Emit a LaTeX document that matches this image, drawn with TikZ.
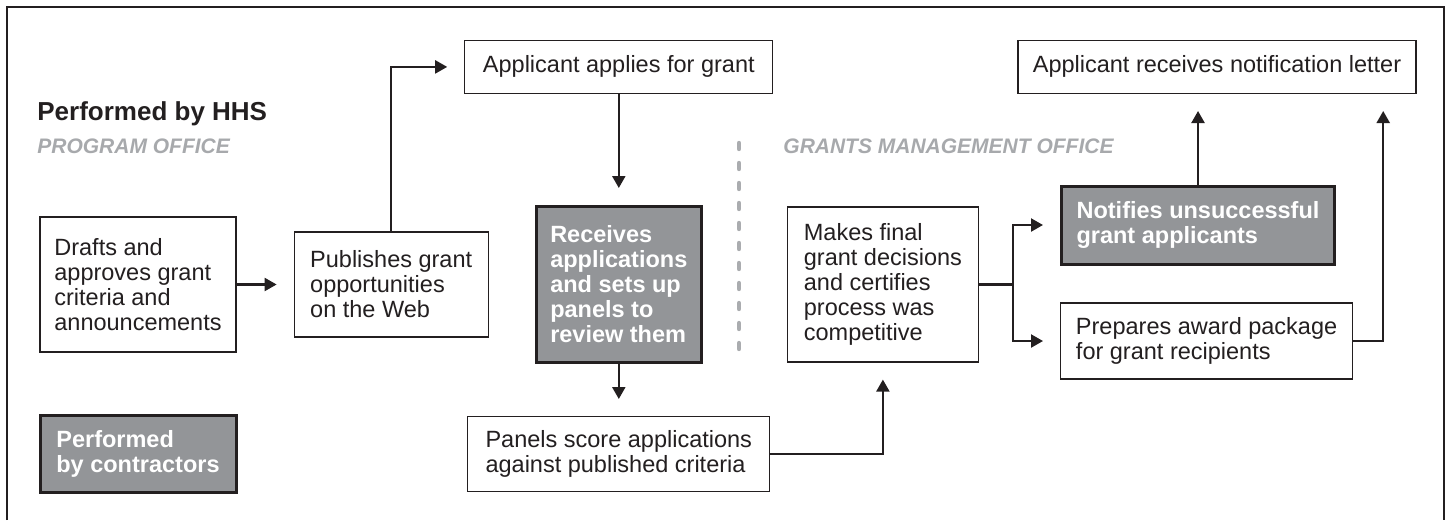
\documentclass[tikz,border=0pt]{standalone}
\usepackage{fontspec}
\setmainfont{Liberation Sans}
\usepackage{xcolor}
\definecolor{colorInk}{RGB}{35,31,32}
\definecolor{colorContract}{RGB}{147,149,152}
\definecolor{colorOffice}{RGB}{167,169,172}
\definecolor{colorDivider}{RGB}{170,172,175}
\usepackage{tikz}
\usetikzlibrary{arrows.meta, positioning}
\newcommand{\boxfont}{\fontsize{11.75pt}{12.5pt}\selectfont}
\tikzset{
  task/.style={draw=colorInk, line width=0.6pt, fill=white, text=colorInk, align=left, inner sep=0pt, font=\boxfont},
  contract/.style={task, line width=1.5pt, fill=colorContract, text=white, font=\boxfont\bfseries},
  office/.style={anchor=base west, inner sep=0pt, text=colorOffice, font=\fontsize{10.5pt}{12pt}\selectfont\bfseries\itshape},
  flow/.style={->, colorInk, line width=1.1pt, shorten >=8.5pt},
}

\begin{document}
\begin{tikzpicture}[x=0.5pt, y=-0.5pt, >={Triangle[length=6pt, width=6.5pt]}]
\useasboundingbox (0,0) rectangle (1449,520);
\draw[colorInk, line width=0.65pt] (7,520) |- (1444,7) -- (1444,520);

\node[anchor=base west, inner sep=0pt, text=colorInk, font=\fontsize{13pt}{15pt}\selectfont\bfseries] (hhs) at (37,120) {Performed by HHS};
\node[office] (program) at (37,153) {PROGRAM OFFICE};
\node[office] (grantsmgmt) at (783,153) {GRANTS MANAGEMENT OFFICE};
\draw[colorDivider, line width=2.2pt, line cap=round, dash pattern=on 3pt off 7pt] (739,143) -- (739,362);

\node[task, minimum width=98pt, minimum height=67.5pt] (drafts) at (138,284.5) {Drafts and\\approves grant\\criteria and\\announcements};
\node[task, minimum width=97pt, minimum height=52.5pt, right=28.5pt of drafts] (publish) {Publishes grant\\opportunities\\on the Web};
\node[contract, minimum width=82.5pt, minimum height=78pt, right=23pt of publish] (recv) {Receives\\applications\\and sets up\\panels to\\review them};
\node[task, minimum width=95.5pt, minimum height=77.5pt, right=42pt of recv] (decide) {Makes final\\grant decisions\\and certifies\\process was\\competitive};
\node[task, align=center, minimum width=154pt, minimum height=26.5pt, above=55.5pt of recv] (apply) {Applicant applies for grant};
\node[task, minimum width=151pt, minimum height=37.5pt, below=26pt of recv] (panels) {Panels score applications\\against published criteria};
\node[contract, minimum width=98pt, minimum height=38.5pt, below=30.5pt of drafts] (contractors) {Performed\\by contractors};
\node[contract, minimum width=136.5pt, minimum height=39pt, right=40.5pt of decide.east, yshift=29.75pt] (notify) {Notifies unsuccessful\\grant applicants};
\node[task, minimum width=146pt, minimum height=38pt, right=40.5pt of decide.east, yshift=-28.25pt] (award) {Prepares award package\\for grant recipients};
\node[task, minimum width=199pt, minimum height=26.5pt, right=122pt of apply] (letter) {Applicant receives notification letter};

\draw[flow] (drafts) -- (publish);
\draw[flow] (publish.north) |- (apply);
\draw[flow] (apply) -- (recv);
\draw[flow] (recv) -- (panels);
\draw[flow] (panels) -| (decide);
\coordinate[right=17pt of decide.east] (split);
\draw[colorInk, line width=1.1pt] (decide) -- (split);
\draw[flow] (split) |- (notify);
\draw[flow] (split) |- (award);
\draw[flow] (notify) -- (notify |- letter.south);
\coordinate[right=15pt of award.east] (turn);
\draw[flow] (award) -- (turn) -- (turn |- letter.south);
\end{tikzpicture}
\end{document}
